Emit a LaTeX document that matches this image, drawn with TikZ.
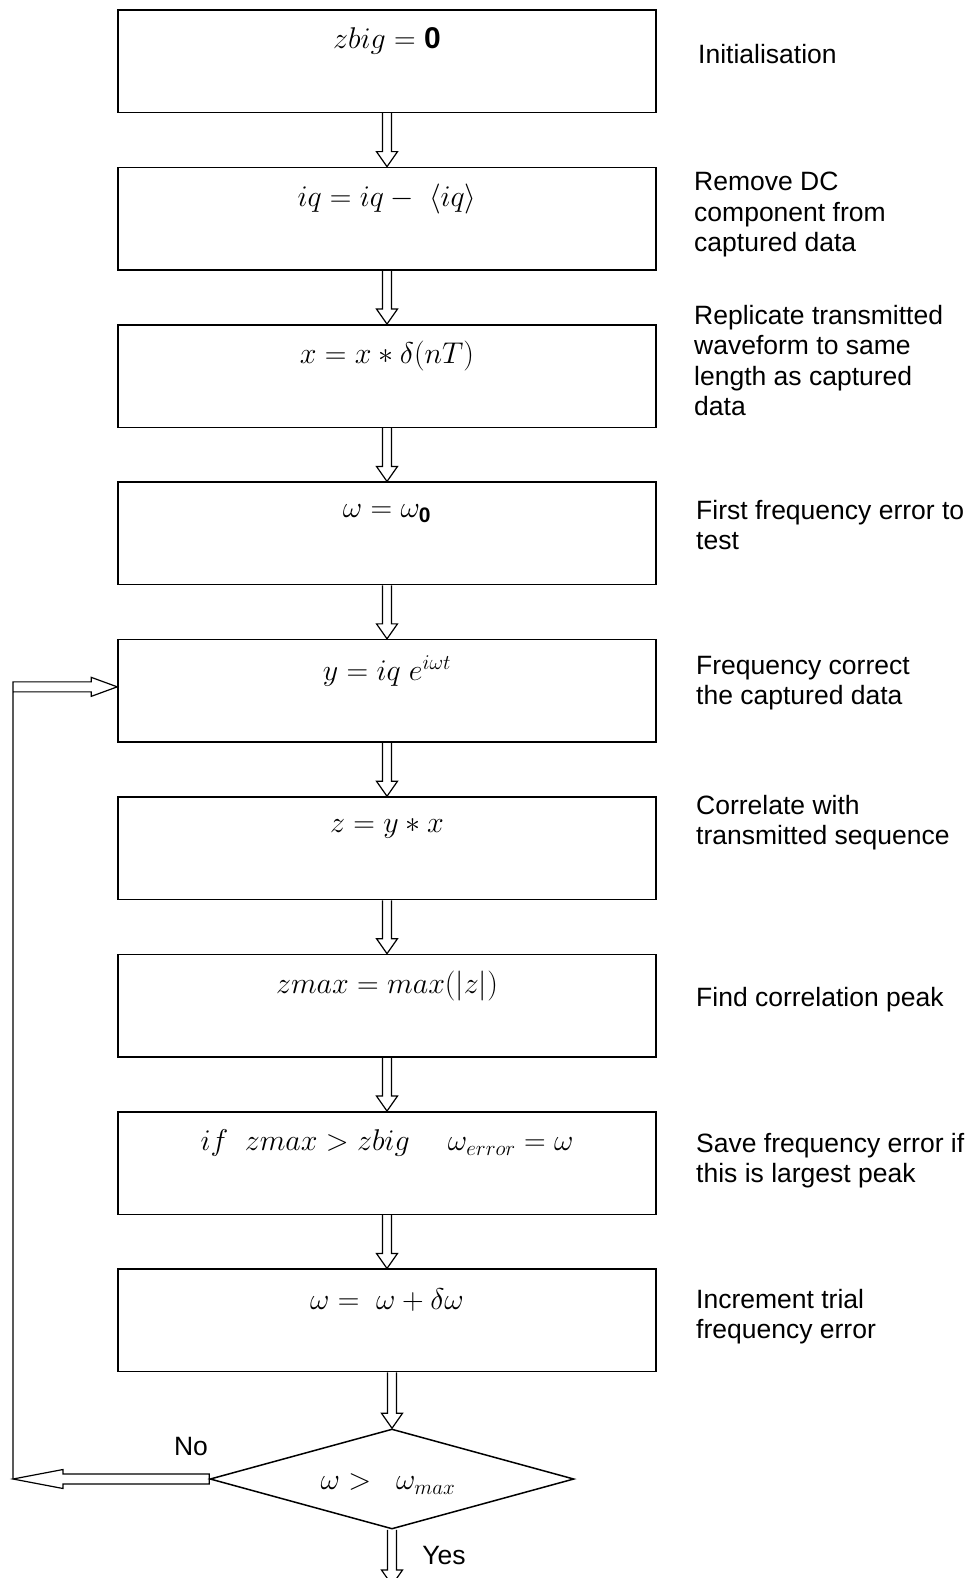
\RequirePackage{fix-cm}
\documentclass[tikz,border=0pt]{standalone}
\usepackage{fontspec}
\setmainfont{Liberation Sans}
\usetikzlibrary{calc,shapes.geometric}

\newcommand{\downflow}[2]{%
  \draw[flowline] ($(#1 -| #2)+(-4.5,0)$) -- ($(#2)+(-4.5,-15)$)
    -- ($(#2)+(-10.5,-15)$) -- (#2) -- ($(#2)+(10.5,-15)$)
    -- ($(#2)+(4.5,-15)$) -- ($(#1 -| #2)+(4.5,0)$);}

\begin{document}
\begin{tikzpicture}[x=1pt, y=-1pt, font=\fontsize{26.5}{30.5}\selectfont,
    box/.style={draw, line width=1.5pt, minimum width=538pt, minimum height=102.5pt, inner sep=0pt},
    test/.style={draw, diamond, line width=1.5pt, minimum width=364pt, minimum height=100pt, aspect=3.6, inner sep=0pt},
    formula/.style={font=\fontsize{30}{36}\selectfont},
    note/.style={anchor=north west, align=left, inner sep=0pt},
    flowline/.style={line width=1.2pt, line join=miter}]
  \useasboundingbox (0,0) rectangle (979,1578);
  \foreach \i/\f in {1/{$zbig = \mathbf{0}$}, 2/{$iq = iq -\ \langle iq\rangle$},
      3/{$x = x \ast \delta(nT)$}, 4/{$\omega = \omega_{\mathbf{0}}$},
      5/{$y = iq\; e^{i\omega t}$}, 6/{$z = y \ast x$},
      7/{$zmax = max(|z|)$}, 8/{$if\;\; zmax > zbig \quad\; \omega_{error} = \omega$},
      9/{$\omega =\ \omega + \delta\omega$}}{
    \node[box] (b\i) at (387, {61.25+157.4*(\i-1)}) {};
    \node[formula] (f\i) at ([yshift=-32pt]b\i.north) {\f};
  }
  \node[test] (d) at (392,1479) {};
  \node[formula] (fd) at ([yshift=-5pt,xshift=-4pt]d.center) {$\omega >\ \ \omega_{max}$};

  \foreach \i/\j in {1/2,2/3,3/4,4/5,5/6,6/7,7/8,8/9}
    \downflow{b\i.south}{b\j.north};
  \downflow{b9.south}{d.north};
  \coordinate (out) at (392,1585);
  \downflow{d.south}{out};

  \coordinate (lp) at (13,1479);
  \draw[flowline] ($(d.west)+(0,-5)$) -- ($(lp)+(50,-5)$) -- ($(lp)+(50,-9.5)$) -- (lp)
    -- ($(lp)+(50,9.5)$) -- ($(lp)+(50,5)$) -- ($(d.west)+(0,5)$) -- cycle;
  \draw[flowline] (lp) -- ($(lp |- b5.west)+(0,-9)$) -- ($(b5.west)+(-26,-9)$)
    -- ($(b5.west)+(-26,-13.5)$) -- ($(b5.west)+(0,-4)$) -- ($(b5.west)+(-26,5.5)$)
    -- ($(b5.west)+(-26,1)$) -- ($(lp |- b5.west)+(0,1)$);
  \node (no) at (191,1446) {No};
  \node (yes) at (444,1555) {Yes};

  \node[note] (n1) at (698,44) {Initialisation};
  \node[note] (n2) at (694,172) {Remove DC\\component from\\captured data};
  \node[note] (n3) at (694,305) {Replicate transmitted\\waveform to same\\length as captured\\data};
  \node[note] (n4) at (696,500) {First frequency error to\\test};
  \node[note] (n5) at (696,656) {Frequency correct\\the captured data};
  \node[note] (n6) at (696,795) {Correlate with\\transmitted sequence};
  \node[note] (n7) at (696,987) {Find correlation peak};
  \node[note] (n8) at (696,1133) {Save frequency error if\\this is largest peak};
  \node[note] (n9) at (696,1289) {Increment trial\\frequency error};
\end{tikzpicture}
\end{document}
